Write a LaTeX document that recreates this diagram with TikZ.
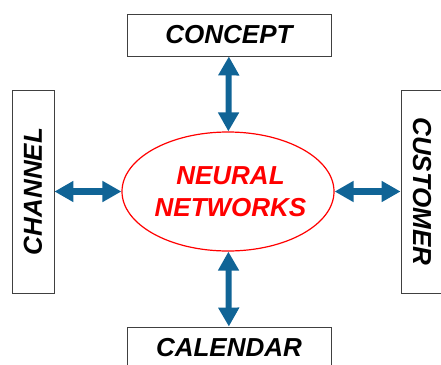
\documentclass[tikz,border=0pt]{standalone}
\usepackage{fontspec}
\setmainfont{Liberation Sans}
\usetikzlibrary{shapes.geometric,arrows.meta}
\definecolor{arrowblue}{RGB}{16,100,150}
\begin{document}
\begin{tikzpicture}[x=1pt,y=-1pt,
  labelbox/.style={draw=black!75, line width=0.9pt, fill=white, inner sep=0pt,
    font=\fontsize{26}{32}\selectfont\bfseries\itshape},
  biarrow/.style={draw=arrowblue, line width=6pt,
    {Triangle[length=19pt,width=20pt]}-{Triangle[length=19pt,width=20pt]}}]
\useasboundingbox (0,0) rectangle (441,364);
\node[labelbox, minimum width=204pt, minimum height=42pt] (concept) at (229,35) {CONCEPT};
\node[labelbox, minimum width=204pt, minimum height=42pt] (calendar) at (229,348) {CALENDAR};
\node[labelbox, minimum width=203pt, minimum height=42pt, rotate=90] (channel) at (33,191.5) {CHANNEL};
\node[labelbox, minimum width=203pt, minimum height=42pt, rotate=-90] (customer) at (422,191.5) {CUSTOMER};
\node[draw=red, line width=1.2pt, ellipse, minimum width=212pt, minimum height=119pt,
  inner xsep=-8pt, inner ysep=0pt, text=red, align=center,
  font=\fontsize{26}{32}\selectfont\bfseries\itshape] (nn) at (228,191.5) {\hspace{5pt}NEURAL\\\hspace{5pt}NETWORKS};
\draw[biarrow] (concept) -- (nn);
\draw[biarrow] (calendar) -- (nn);
\draw[biarrow, line width=7pt] (channel) -- (nn);
\draw[biarrow, line width=7pt] (customer) -- (nn);
\end{tikzpicture}
\end{document}
